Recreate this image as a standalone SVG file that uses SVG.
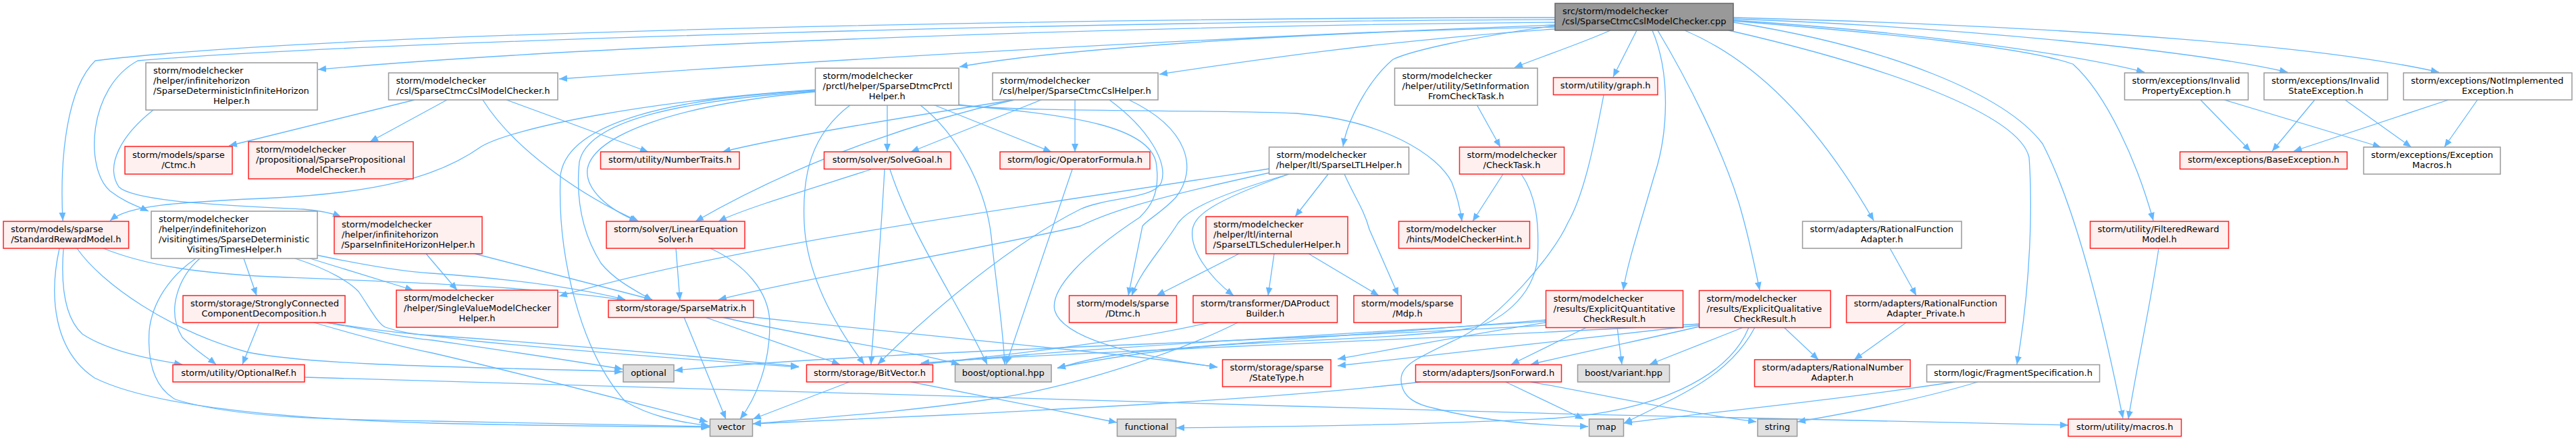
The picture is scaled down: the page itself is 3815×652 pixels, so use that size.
<svg xmlns="http://www.w3.org/2000/svg" width="3815" height="652" viewBox="0 0 3815 652">
<style>
.e{fill:none;stroke:#63B8FF;stroke-width:1.3;marker-end:url(#a)}
rect{stroke-width:1.5}
.w{fill:#fff;stroke:#999}
.r{fill:#FFF0F0;stroke:#F22}
.g{fill:#E0E0E0;stroke:#999}
.rt{fill:#999;stroke:#666}
text{font-family:"DejaVu Sans",sans-serif;font-size:13px;fill:#000}
.c{text-anchor:middle}
</style>
<defs>
<marker id="a" viewBox="0 0 12 10" refX="12" refY="5" markerWidth="12" markerHeight="10" markerUnits="userSpaceOnUse" orient="auto"><path d="M0,0L12,5L0,10z" fill="#63B8FF"/></marker>
</defs>
<rect width="3815" height="652" fill="#fff" stroke="none"/>
<g id="edges">
<path class="e" d="M2303,26 C1700,26 500,45 141,90 C100,130 88,230 93,327"/>
<path class="e" d="M2303,29 C1700,30 550,60 204,90 C130,130 125,250 163,283 C185,300 205,306 220,313"/>
<path class="e" d="M2303,33 C1700,38 900,65 471,103"/>
<path class="e" d="M2303,37 C1800,55 1200,90 828,117"/>
<path class="e" d="M2303,40 C1900,48 1550,75 1421,99"/>
<path class="e" d="M2303,43 C2050,60 1850,90 1717,110"/>
<path class="e" d="M2303,38 C2180,55 2090,75 2063,88 C2025,120 1995,180 1989,217"/>
<path class="e" d="M2385,45 C2340,65 2280,85 2243,100"/>
<path class="e" d="M2424,45 L2389,114"/>
<path class="e" d="M2447,45 C2475,110 2470,200 2450,260 C2430,330 2410,390 2404,430"/>
<path class="e" d="M2455,45 C2500,120 2550,220 2575,300 C2590,350 2600,400 2606,430"/>
<path class="e" d="M2495,45 C2600,90 2690,180 2775,327"/>
<path class="e" d="M2560,45 C2800,100 2990,170 3005,233 C3010,300 3008,420 2987,540"/>
<path class="e" d="M2567,33 C2800,70 2970,140 3025,213 C3070,300 3110,450 3144,620"/>
<path class="e" d="M2567,31 C2800,50 3000,70 3070,95 C3120,140 3165,240 3189,327"/>
<path class="e" d="M2567,30 C2800,45 3050,75 3176,107"/>
<path class="e" d="M2567,28 C2900,40 3250,75 3388,107"/>
<path class="e" d="M2567,26 C3100,40 3450,70 3612,107"/>
<path class="e" d="M3259,148 L3333,224"/>
<path class="e" d="M3294,148 L3526,218"/>
<path class="e" d="M3428,148 L3365,224"/>
<path class="e" d="M3473,148 L3571,218"/>
<path class="e" d="M3626,148 L3397,224"/>
<path class="e" d="M3669,148 L3620,218"/>
<path class="e" d="M614,148 L339,216"/>
<path class="e" d="M662,148 L548,210"/>
<path class="e" d="M750,148 L960,225"/>
<path class="e" d="M715,148 C760,220 860,290 946,328"/>
<path class="e" d="M1207,133 C950,150 760,190 713,217 C650,262 560,285 410,293 C250,300 190,305 163,327"/>
<path class="e" d="M1207,134 C1000,145 840,180 830,260 C825,380 860,520 926,595 C960,615 1000,625 1051,631"/>
<path class="e" d="M1207,135 C1000,150 870,180 858,240 C852,300 865,350 890,390 C910,415 940,430 966,445"/>
<path class="e" d="M1207,136 C1000,155 880,200 870,250 C866,280 900,310 944,328"/>
<path class="e" d="M1314,155 L1314,225"/>
<path class="e" d="M1382,155 L1557,225"/>
<path class="e" d="M1362,155 C1420,200 1460,280 1468,350 C1475,420 1485,480 1488,540"/>
<path class="e" d="M1260,155 C1200,200 1188,260 1191,330 C1195,420 1250,500 1280,540"/>
<path class="e" d="M1420,155 C1500,167 1800,162 1920,168 C2050,178 2130,230 2150,270 C2158,290 2162,305 2165,328"/>
<path class="e" d="M1420,156 C1600,170 1700,190 1712,240 C1720,290 1700,310 1688,322 C1600,380 1555,430 1562,460 C1575,505 1700,530 1803,544"/>
<path class="e" d="M1290,251 C1200,280 1100,310 1064,328"/>
<path class="e" d="M1310,251 C1305,350 1296,450 1290,540"/>
<path class="e" d="M1318,251 C1350,350 1420,450 1462,540"/>
<path class="e" d="M1542,148 L1349,225"/>
<path class="e" d="M1592,148 L1592,225"/>
<path class="e" d="M1502,148 C1300,180 1150,205 1070,225"/>
<path class="e" d="M1502,148 C1380,175 1200,230 1030,328"/>
<path class="e" d="M1643,148 C1700,190 1730,240 1720,270 C1710,295 1640,292 1600,310 C1500,360 1380,460 1300,540"/>
<path class="e" d="M1672,148 C1760,190 1775,250 1741,293 C1720,315 1700,325 1692,335 L1671,438"/>
<path class="e" d="M1880,250 C1500,310 1100,360 828,439"/>
<path class="e" d="M1880,256 C1700,295 1640,315 1600,335 C1450,370 1200,410 1064,444"/>
<path class="e" d="M1909,258 C1800,290 1760,310 1745,330 C1720,370 1690,400 1676,438"/>
<path class="e" d="M1909,258 C1790,300 1770,320 1766,340 C1762,370 1790,410 1827,438"/>
<path class="e" d="M1967,258 L1918,321"/>
<path class="e" d="M1991,258 C2005,290 2020,310 2028,340 L2071,438"/>
<path class="e" d="M1835,376 L1713,438"/>
<path class="e" d="M1887,376 L1878,438"/>
<path class="e" d="M1938,376 L2042,438"/>
<path class="e" d="M1790,478 C1700,500 1550,520 1362,540"/>
<path class="e" d="M1833,478 C1750,520 1600,570 1484,589 C1350,610 1200,620 1115,628"/>
<path class="e" d="M2187,155 L2222,218"/>
<path class="e" d="M2226,258 L2181,328"/>
<path class="e" d="M2253,258 C2275,290 2280,330 2277,384 C2270,440 2220,480 2173,487 C2100,500 1900,505 1800,512 C1680,522 1600,538 1566,545"/>
<path class="e" d="M2375,141 C2360,220 2345,290 2322,330 C2300,380 2220,470 2165,499 C2100,530 2075,540 2075,562 C2075,590 2100,600 2124,605 C2200,625 2280,630 2352,632"/>
<path class="e" d="M2350,485 L2238,540"/>
<path class="e" d="M2395,485 L2402,540"/>
<path class="e" d="M2289,478 C2150,500 2050,520 1981,532"/>
<path class="e" d="M2289,474 C2100,490 1800,510 1700,520 C1630,527 1590,538 1566,546"/>
<path class="e" d="M2289,476 C2000,495 1600,515 1362,540"/>
<path class="e" d="M2289,482 C1800,510 1300,520 999,549"/>
<path class="e" d="M2516,484 C2450,500 2350,520 2267,540"/>
<path class="e" d="M2582,485 L2443,540"/>
<path class="e" d="M2642,485 L2693,533"/>
<path class="e" d="M2516,482 C2300,505 2100,530 1981,542"/>
<path class="e" d="M2599,485 C2570,540 2520,570 2470,595 C2440,610 2420,620 2405,627"/>
<path class="e" d="M2590,485 C2560,560 2450,610 2300,620 C2100,630 1900,632 1742,634"/>
<path class="e" d="M2516,480 C2200,500 1600,520 1364,538"/>
<path class="e" d="M2230,566 L2345,621"/>
<path class="e" d="M2267,566 C2400,590 2500,612 2601,625"/>
<path class="e" d="M2104,566 C1900,590 1600,605 1400,615 C1250,622 1150,626 1115,628"/>
<path class="e" d="M2929,566 C2850,590 2750,610 2662,625"/>
<path class="e" d="M2895,566 C2700,595 2560,608 2405,627"/>
<path class="e" d="M2799,368 L2838,438"/>
<path class="e" d="M2823,478 L2746,533"/>
<path class="e" d="M3197,368 C3185,450 3165,540 3152,621"/>
<path class="e" d="M451,559 C800,565 1300,580 1920,602 C2300,614 2800,625 3063,630"/>
<path class="e" d="M1349,566 L1654,626"/>
<path class="e" d="M1258,566 L1115,621"/>
<path class="e" d="M1001,368 L1007,445"/>
<path class="e" d="M1052,368 C1100,390 1140,430 1140,480 C1140,540 1120,590 1096,621"/>
<path class="e" d="M1013,470 L1075,621"/>
<path class="e" d="M1044,470 L1244,540"/>
<path class="e" d="M1116,470 C1300,490 1500,510 1600,520 C1700,530 1760,538 1803,544"/>
<path class="e" d="M1069,470 C1200,500 1350,520 1421,540"/>
<path class="e" d="M1588,251 L1490,540"/>
<path class="e" d="M153,368 C220,395 300,405 400,410 C600,418 800,425 926,445"/>
<path class="e" d="M94,368 C90,420 95,470 122,495 C160,520 220,532 270,540"/>
<path class="e" d="M114,368 C150,420 250,490 367,522 C480,545 800,545 922,551"/>
<path class="e" d="M88,368 C72,440 80,520 140,560 C220,600 400,620 640,627 C800,631 950,632 1051,633"/>
<path class="e" d="M361,383 L380,438"/>
<path class="e" d="M296,383 C265,410 245,460 270,500 C290,520 310,532 320,540"/>
<path class="e" d="M459,383 L612,430"/>
<path class="e" d="M469,378 C550,395 600,403 640,405 C780,415 870,430 926,444"/>
<path class="e" d="M437,383 C490,400 520,420 531,432 C550,460 560,480 571,485 C600,495 620,495 700,505 C900,525 1100,538 1183,544"/>
<path class="e" d="M290,383 C250,410 225,450 221,490 C218,540 230,575 260,592 C350,620 500,622 640,624 C800,627 950,630 1050,632"/>
<path class="e" d="M631,376 L677,430"/>
<path class="e" d="M703,376 L966,444"/>
<path class="e" d="M384,478 L359,540"/>
<path class="e" d="M465,478 C540,500 600,515 640,523 C800,560 950,600 1048,625"/>
<path class="e" d="M484,478 C560,490 600,495 640,497 C900,515 1100,535 1183,543"/>
<path class="e" d="M484,478 C560,492 600,500 640,504 C750,520 850,535 922,547"/>
<path class="e" d="M227,163 C180,200 155,245 176,277 C200,300 350,305 449,310 C475,312 492,316 505,321"/>
</g>
<g id="root"><rect class="rt" x="2303" y="5" width="264" height="40"/><text x="2314" y="21">src/storm/modelchecker</text><text x="2435" y="36" class="c">/csl/SparseCtmcCslModelChecker.cpp</text></g>
<g id="n_A"><rect class="w" x="216" y="93" width="254" height="70"/><text x="227" y="109">storm/modelchecker</text><text x="227" y="124">/helper/infinitehorizon</text><text x="227" y="139">/SparseDeterministicInfiniteHorizon</text><text x="343" y="154" class="c">Helper.h</text></g>
<g id="n_B"><rect class="w" x="575.5" y="108" width="250.5" height="40"/><text x="586.5" y="124">storm/modelchecker</text><text x="700.75" y="139" class="c">/csl/SparseCtmcCslModelChecker.h</text></g>
<g id="n_C"><rect class="r" x="185" y="217" width="159" height="41"/><text x="196" y="233.5">storm/models/sparse</text><text x="264.5" y="248.5" class="c">/Ctmc.h</text></g>
<g id="n_D"><rect class="r" x="368" y="210" width="244" height="55"/><text x="379" y="226">storm/modelchecker</text><text x="379" y="241">/propositional/SparsePropositional</text><text x="490" y="256" class="c">ModelChecker.h</text></g>
<g id="n_E"><rect class="r" x="5" y="328" width="185.6" height="40"/><text x="16" y="344">storm/models/sparse</text><text x="97.8" y="359" class="c">/StandardRewardModel.h</text></g>
<g id="n_F"><rect class="w" x="224" y="313" width="246" height="70"/><text x="235" y="329">storm/modelchecker</text><text x="235" y="344">/helper/indefinitehorizon</text><text x="235" y="359">/visitingtimes/SparseDeterministic</text><text x="347" y="374" class="c">VisitingTimesHelper.h</text></g>
<g id="n_G"><rect class="r" x="495" y="321" width="219" height="55"/><text x="506" y="337">storm/modelchecker</text><text x="506" y="352">/helper/infinitehorizon</text><text x="604.5" y="367" class="c">/SparseInfiniteHorizonHelper.h</text></g>
<g id="n_H"><rect class="r" x="271" y="438" width="240" height="40"/><text x="282" y="454">storm/storage/StronglyConnected</text><text x="391" y="469" class="c">ComponentDecomposition.h</text></g>
<g id="n_I"><rect class="r" x="256" y="540.5" width="195" height="25.5"/><text x="353.5" y="556.75" class="c">storm/utility/OptionalRef.h</text></g>
<g id="n_J"><rect class="r" x="587" y="430" width="239" height="55"/><text x="598" y="446">storm/modelchecker</text><text x="598" y="461">/helper/SingleValueModelChecker</text><text x="706.5" y="476" class="c">Helper.h</text></g>
<g id="n_K"><rect class="r" x="889.5" y="225" width="205.5" height="25.5"/><text x="992.25" y="241.25" class="c">storm/utility/NumberTraits.h</text></g>
<g id="n_L"><rect class="w" x="1207.5" y="101" width="212.5" height="55"/><text x="1218.5" y="117">storm/modelchecker</text><text x="1218.5" y="132">/prctl/helper/SparseDtmcPrctl</text><text x="1313.75" y="147" class="c">Helper.h</text></g>
<g id="n_M"><rect class="r" x="1220.5" y="225" width="187.5" height="25.5"/><text x="1314.25" y="241.25" class="c">storm/solver/SolveGoal.h</text></g>
<g id="n_N"><rect class="r" x="898" y="328" width="205" height="40"/><text x="909" y="344">storm/solver/LinearEquation</text><text x="1000.5" y="359" class="c">Solver.h</text></g>
<g id="n_O"><rect class="w" x="1470" y="108" width="245" height="40"/><text x="1481" y="124">storm/modelchecker</text><text x="1592.5" y="139" class="c">/csl/helper/SparseCtmcCslHelper.h</text></g>
<g id="n_P"><rect class="r" x="1481" y="225" width="222" height="25.5"/><text x="1592" y="241.25" class="c">storm/logic/OperatorFormula.h</text></g>
<g id="n_Q"><rect class="w" x="1879.5" y="218" width="207" height="40"/><text x="1890.5" y="234">storm/modelchecker</text><text x="1983" y="249" class="c">/helper/ltl/SparseLTLHelper.h</text></g>
<g id="n_LS"><rect class="r" x="1786" y="321" width="210" height="55"/><text x="1797" y="337">storm/modelchecker</text><text x="1797" y="352">/helper/ltl/internal</text><text x="1891" y="367" class="c">/SparseLTLSchedulerHelper.h</text></g>
<g id="n_R"><rect class="w" x="2065.5" y="101" width="211.5" height="55"/><text x="2076.5" y="117">storm/modelchecker</text><text x="2076.5" y="132">/helper/utility/SetInformation</text><text x="2171.25" y="147" class="c">FromCheckTask.h</text></g>
<g id="n_S"><rect class="r" x="2300.5" y="115" width="154.5" height="25.5"/><text x="2377.75" y="131.25" class="c">storm/utility/graph.h</text></g>
<g id="n_T"><rect class="r" x="2161.5" y="218" width="155" height="40"/><text x="2172.5" y="234">storm/modelchecker</text><text x="2239" y="249" class="c">/CheckTask.h</text></g>
<g id="n_U"><rect class="r" x="2071.5" y="328" width="194" height="40"/><text x="2082.5" y="344">storm/modelchecker</text><text x="2168.5" y="359" class="c">/hints/ModelCheckerHint.h</text></g>
<g id="n_V"><rect class="w" x="3146.5" y="108" width="183" height="40"/><text x="3157.5" y="124">storm/exceptions/Invalid</text><text x="3238" y="139" class="c">PropertyException.h</text></g>
<g id="n_W"><rect class="w" x="2669.5" y="328" width="235.5" height="40"/><text x="2680.5" y="344">storm/adapters/RationalFunction</text><text x="2787.25" y="359" class="c">Adapter.h</text></g>
<g id="n_FR"><rect class="r" x="3095.5" y="328" width="205" height="40"/><text x="3106.5" y="344">storm/utility/FilteredReward</text><text x="3198" y="359" class="c">Model.h</text></g>
<g id="n_X"><rect class="w" x="3353" y="108" width="183" height="40"/><text x="3364" y="124">storm/exceptions/Invalid</text><text x="3444.5" y="139" class="c">StateException.h</text></g>
<g id="n_Y"><rect class="w" x="3559.5" y="108" width="249.5" height="40"/><text x="3570.5" y="124">storm/exceptions/NotImplemented</text><text x="3684.25" y="139" class="c">Exception.h</text></g>
<g id="n_Z"><rect class="r" x="3228.5" y="225" width="247.5" height="25.5"/><text x="3352.25" y="241.25" class="c">storm/exceptions/BaseException.h</text></g>
<g id="n_AA"><rect class="w" x="3500.5" y="218" width="202.5" height="40"/><text x="3511.5" y="234">storm/exceptions/Exception</text><text x="3601.75" y="249" class="c">Macros.h</text></g>
<g id="n_SM"><rect class="r" x="901" y="445" width="215" height="25.5"/><text x="1008.5" y="461.25" class="c">storm/storage/SparseMatrix.h</text></g>
<g id="n_OPT"><rect class="g" x="923" y="540.5" width="75" height="25.5"/><text x="960.5" y="556.75" class="c">optional</text></g>
<g id="n_BV"><rect class="r" x="1194.5" y="540.5" width="187" height="25.5"/><text x="1288" y="556.75" class="c">storm/storage/BitVector.h</text></g>
<g id="n_VEC"><rect class="g" x="1051.5" y="621" width="63" height="25.5"/><text x="1083" y="637.25" class="c">vector</text></g>
<g id="n_BO"><rect class="g" x="1414.5" y="540.5" width="142.5" height="25.5"/><text x="1485.75" y="556.75" class="c">boost/optional.hpp</text></g>
<g id="n_DT"><rect class="r" x="1583.5" y="438" width="159" height="40"/><text x="1594.5" y="454">storm/models/sparse</text><text x="1663" y="469" class="c">/Dtmc.h</text></g>
<g id="n_DA"><rect class="r" x="1767" y="438" width="213.5" height="40"/><text x="1778" y="454">storm/transformer/DAProduct</text><text x="1873.75" y="469" class="c">Builder.h</text></g>
<g id="n_ST"><rect class="r" x="1810.5" y="533" width="160.5" height="40"/><text x="1821.5" y="549">storm/storage/sparse</text><text x="1890.75" y="564" class="c">/StateType.h</text></g>
<g id="n_FN"><rect class="g" x="1654.5" y="621" width="87" height="25.5"/><text x="1698" y="637.25" class="c">functional</text></g>
<g id="n_MDP"><rect class="r" x="2005" y="438" width="159" height="40"/><text x="2016" y="454">storm/models/sparse</text><text x="2084.5" y="469" class="c">/Mdp.h</text></g>
<g id="n_EQ"><rect class="r" x="2289.5" y="430.5" width="203" height="55"/><text x="2300.5" y="446.5">storm/modelchecker</text><text x="2300.5" y="461.5">/results/ExplicitQuantitative</text><text x="2391" y="476.5" class="c">CheckResult.h</text></g>
<g id="n_EQl"><rect class="r" x="2516.5" y="430.5" width="194.5" height="55"/><text x="2527.5" y="446.5">storm/modelchecker</text><text x="2527.5" y="461.5">/results/ExplicitQualitative</text><text x="2613.75" y="476.5" class="c">CheckResult.h</text></g>
<g id="n_JF"><rect class="r" x="2096.5" y="540.5" width="216" height="25.5"/><text x="2204.5" y="556.75" class="c">storm/adapters/JsonForward.h</text></g>
<g id="n_BVAR"><rect class="g" x="2336.5" y="540.5" width="136" height="25.5"/><text x="2404.5" y="556.75" class="c">boost/variant.hpp</text></g>
<g id="n_MAP"><rect class="g" x="2353.5" y="621" width="51" height="25.5"/><text x="2379" y="637.25" class="c">map</text></g>
<g id="n_RFP"><rect class="r" x="2734.5" y="438" width="235.5" height="40"/><text x="2745.5" y="454">storm/adapters/RationalFunction</text><text x="2852.25" y="469" class="c">Adapter_Private.h</text></g>
<g id="n_RNA"><rect class="r" x="2598.5" y="533" width="230.5" height="40"/><text x="2609.5" y="549">storm/adapters/RationalNumber</text><text x="2713.75" y="564" class="c">Adapter.h</text></g>
<g id="n_FS"><rect class="w" x="2853.5" y="540.5" width="256" height="25.5"/><text x="2981.5" y="556.75" class="c">storm/logic/FragmentSpecification.h</text></g>
<g id="n_STR"><rect class="g" x="2603" y="621" width="58.5" height="25.5"/><text x="2632.25" y="637.25" class="c">string</text></g>
<g id="n_MAC"><rect class="r" x="3063" y="621" width="167.5" height="25.5"/><text x="3146.75" y="637.25" class="c">storm/utility/macros.h</text></g>
</svg>
